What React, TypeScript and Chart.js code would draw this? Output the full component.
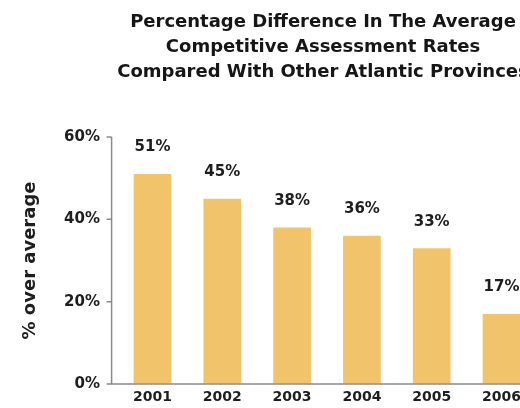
import React, { useEffect, useRef } from "react";
import { Chart, registerables } from "chart.js";

Chart.register(...registerables);

const years = ["2001", "2002", "2003", "2004", "2005", "2006"];
const pctOverAverage = [51, 45, 38, 36, 33, 17];
const barLabels = ["51%", "45%", "38%", "36%", "33%", "17%"];
const titleLines = [
  "Percentage Difference In The Average",
  "Competitive Assessment Rates",
  "Compared With Other Atlantic Provinces",
];
const yAxisTitle = "% over average";
const yMin = 0;
const yMax = 60;
const yStep = 20;

const FONT = "'DejaVu Sans', Arial, Helvetica, sans-serif";
const BAR_COLOR = "#F1C46B";
const AXIS_COLOR = "#8a8a8a";
const TEXT_COLOR = "#1e1e1e";

const axisPlugin = {
  id: "manualAxis",
  afterDatasetsDraw(chart: any) {
    const { ctx, chartArea, scales } = chart;
    const y = scales.y;
    const x0 = chartArea.left - 6;
    ctx.save();
    ctx.strokeStyle = AXIS_COLOR;
    ctx.lineWidth = 1.5;
    ctx.beginPath();
    ctx.moveTo(x0, y.getPixelForValue(yMax));
    ctx.lineTo(x0, y.getPixelForValue(yMin));
    for (let v = yMin; v <= yMax; v += yStep) {
      const py = y.getPixelForValue(v);
      ctx.moveTo(x0 - 5, py);
      ctx.lineTo(x0, py);
    }
    const base = y.getPixelForValue(0);
    ctx.moveTo(x0, base);
    ctx.lineTo(chartArea.right, base);
    ctx.stroke();

    const meta = chart.getDatasetMeta(0);
    ctx.fillStyle = TEXT_COLOR;
    ctx.font = `bold 15px ${FONT}`;
    ctx.textAlign = "center";
    ctx.textBaseline = "middle";
    meta.data.forEach((bar: any, i: number) => {
      ctx.fillText(barLabels[i], bar.x, bar.y - 26.5);
    });
    ctx.restore();
  },
};

export default function App() {
  const ref = useRef<HTMLCanvasElement | null>(null);

  useEffect(() => {
    if (!ref.current) return;
    const chart = new Chart(ref.current, {
      type: "bar",
      data: {
        labels: years,
        datasets: [
          {
            data: pctOverAverage,
            backgroundColor: BAR_COLOR,
            borderWidth: 0,
            categoryPercentage: 1,
            barPercentage: 0.54,
          },
        ],
      },
      plugins: [axisPlugin],
      options: {
        animation: false,
        responsive: false,
        maintainAspectRatio: false,
        layout: { padding: { left: 0, right: 0, top: 0, bottom: 0 } },
        plugins: {
          legend: { display: false },
          tooltip: { enabled: false },
          title: {
            display: true,
            text: titleLines,
            color: "#161616",
            font: { family: FONT, size: 18, weight: "bold", lineHeight: 1.389 },
            padding: { top: 9.5, bottom: 52.5 },
          },
        },
        scales: {
          x: {
            grid: { display: false, drawTicks: false },
            border: { display: false },
            afterFit: (scale: any) => {
              scale.height = 24;
            },
            ticks: {
              color: TEXT_COLOR,
              padding: 4.6,
              font: { family: FONT, size: 14, weight: "bold" },
              maxRotation: 0,
              autoSkip: false,
            },
          },
          y: {
            min: yMin,
            max: yMax,
            grid: {
              display: true,
              drawOnChartArea: false,
              color: "rgba(0,0,0,0)",
              drawTicks: true,
              tickLength: 15,
            },
            border: { display: false },
            afterFit: (scale: any) => {
              scale.width = 117.6;
            },
            ticks: {
              stepSize: yStep,
              padding: 2.6,
              color: TEXT_COLOR,
              font: { family: FONT, size: 15, weight: "bold" },
              callback: (v: any) => `${v}%`,
            },
            title: {
              display: true,
              text: yAxisTitle,
              color: TEXT_COLOR,
              font: { family: FONT, size: 18, weight: "bold" },
              padding: { top: 19.2, bottom: 0 },
            },
          },
          yRightSpace: {
            position: "right",
            min: yMin,
            max: yMax,
            grid: { display: false, drawTicks: false },
            border: { display: false },
            ticks: { display: false },
            afterFit: (scale: any) => {
              scale.width = 109.6;
            },
          },
        },
      },
    });
    return () => chart.destroy();
  }, []);

  return (
    <div
      style={{
        position: "fixed",
        left: 0,
        top: 0,
        width: 520,
        height: 408,
        overflow: "hidden",
        background: "#fff",
      }}
    >
      <canvas ref={ref} width={646} height={408} style={{ display: "block" }} />
    </div>
  );
}
